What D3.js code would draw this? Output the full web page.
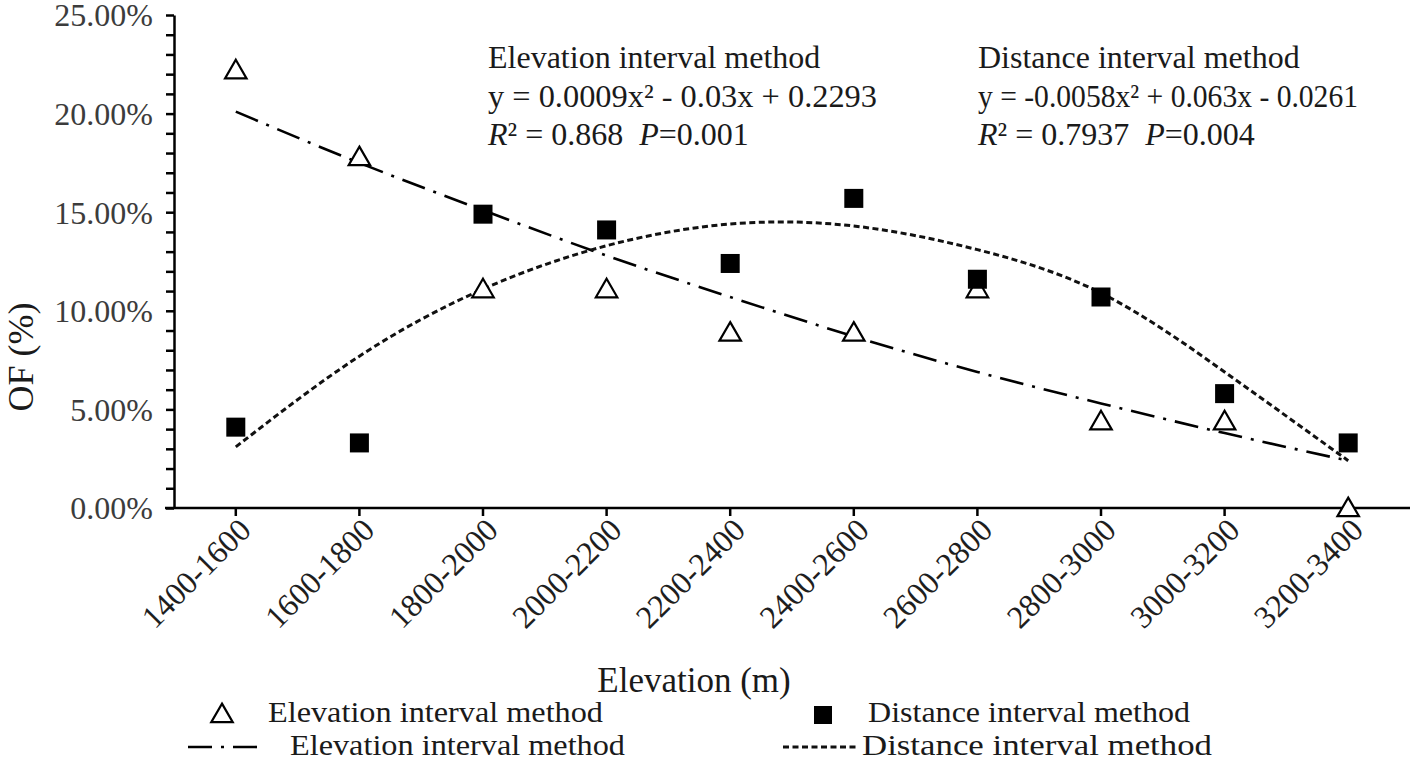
<!DOCTYPE html>
<html>
<head>
<meta charset="utf-8">
<script src="https://cdn.jsdelivr.net/npm/d3@7"></script>
<style>
  html, body { margin: 0; padding: 0; background: #fff; }
  svg { display: block; }
</style>
</head>
<body>
<svg id="chart" width="1418" height="763"></svg>
<script>
// ---------------- data ----------------
const categories = ["1400-1600", "1600-1800", "1800-2000", "2000-2200", "2200-2400",
                    "2400-2600", "2600-2800", "2800-3000", "3000-3200", "3200-3400"];
const elevationValues = [22.2, 17.8, 11.1, 11.1, 8.9, 8.9, 11.1, 4.4, 4.4, 0.0];   // % (triangles)
const distanceValues  = [4.1, 3.3, 14.9, 14.1, 12.4, 15.7, 11.6, 10.7, 5.8, 3.3];  // % (squares)
const elevationTrend  = [20.1, 17.5, 15.1, 12.8, 10.7, 8.7, 6.9, 5.3, 3.8, 2.4];   // % dash-dot fit
const distanceTrend   = [3.1, 7.7, 11.1, 13.3, 14.4, 14.3, 13.1, 10.9, 6.9, 2.4];  // % dotted fit
const yMajorTicks = [0, 5, 10, 15, 20, 25];
const yMinorTicks = [0,1,2,3,4,5,6,7,8,9,10,11,12,13,14,15,16,17,18,19,20,21,22,23,24,25];
const seriesNames = ["Elevation interval method", "Distance interval method"];
const annotElev = { title: "Elevation interval method", eq: "y = 0.0009x² - 0.03x + 0.2293", r2: "0.868", p: "0.001" };
const annotDist = { title: "Distance interval method", eq: "y = -0.0058x² + 0.063x - 0.0261", r2: "0.7937", p: "0.004" };
const xTitle = "Elevation (m)";
const yTitle = "OF (%)";

// ---------------- layout ----------------
const FONT = "'Liberation Serif', 'Times New Roman', Tinos, serif";
const svg = d3.select("#chart");
const mLeft = 174, mRight = 1410, mTop = 15, mBottom = 508;

const x = d3.scaleBand().domain(categories).range([mLeft, mRight]);
const y = d3.scaleLinear().domain([0, 25]).range([mBottom, mTop]);
const cx = c => x(c) + x.bandwidth() / 2;

// Y axis: minor ticks + labelled majors
const yAxisG = svg.append("g").attr("transform", `translate(${mLeft},0)`)
  .call(d3.axisLeft(y).tickValues(yMinorTicks).tickSize(8).tickSizeOuter(0).tickFormat(""));
yAxisG.select(".domain").attr("stroke", "#000").attr("stroke-width", 2.5);
yAxisG.selectAll(".tick line").attr("stroke", "#000").attr("stroke-width", 2.5);

const yLab = svg.append("g").attr("transform", `translate(${mLeft},0)`)
  .call(d3.axisLeft(y).tickValues(yMajorTicks).tickSize(8).tickPadding(13)
        .tickFormat(d => d3.format(".2%")(d / 100)));
yLab.select(".domain").remove();
yLab.selectAll(".tick line").remove();
yLab.selectAll(".tick text").attr("font-size", 32).attr("fill", "#3c3c3c")
    .style("font-family", FONT).attr("dy", "0.34em");

// X axis
const xAxisG = svg.append("g").attr("transform", `translate(0,${mBottom})`)
  .call(d3.axisBottom(x).tickSize(8).tickSizeOuter(0));
xAxisG.select(".domain").attr("stroke", "#000").attr("stroke-width", 2.5)
  .attr("d", `M${mLeft - 9},0H${mRight}`);
xAxisG.selectAll(".tick line").attr("stroke", "#000").attr("stroke-width", 2.5);
xAxisG.selectAll(".tick text")
  .attr("font-size", 32).attr("fill", "#1e1e1e").style("font-family", FONT)
  .attr("text-anchor", "end")
  .attr("transform", "translate(9,16) rotate(-45)")
  .attr("x", 0).attr("y", 0).attr("dy", "0.35em");

// Trend lines
const line = d3.line().x((d, i) => cx(categories[i])).y(d => y(d)).curve(d3.curveNatural);
svg.append("path").datum(elevationTrend).attr("d", line)
  .attr("fill", "none").attr("stroke", "#000").attr("stroke-width", 2.6)
  .attr("stroke-dasharray", "24,9,3,9");
svg.append("path").datum(distanceTrend).attr("d", line)
  .attr("fill", "none").attr("stroke", "#111").attr("stroke-width", 3)
  .attr("stroke-dasharray", "6,3.5");

// Markers
const tri = d3.symbol().type(d3.symbolTriangle).size(200);
svg.append("g").selectAll("path").data(elevationValues).join("path")
  .attr("d", tri)
  .attr("transform", (d, i) => `translate(${cx(categories[i])},${y(d) + 2})`)
  .attr("fill", "#fff").attr("stroke", "#000").attr("stroke-width", 2.2);
const sq = 19;
svg.append("g").selectAll("rect").data(distanceValues).join("rect")
  .attr("x", (d, i) => cx(categories[i]) - sq / 2)
  .attr("y", d => y(d) - sq / 2)
  .attr("width", sq).attr("height", sq).attr("fill", "#000");

// text helper
function stext(g, tx, ty, size, anchor, len) {
  const t = g.append("text")
    .attr("x", tx).attr("y", ty)
    .attr("font-size", size).attr("fill", "#1a1a1a")
    .style("font-family", FONT).style("white-space", "pre")
    .attr("text-anchor", anchor || "start");
  if (len) t.attr("textLength", len).attr("lengthAdjust", "spacingAndGlyphs");
  return t;
}

// Annotations
function annotate(a, ax, eqLen) {
  const g = svg.append("g");
  stext(g, ax, 68, 32).text(a.title);
  stext(g, ax, 107, 32, "start", eqLen).text(a.eq);
  const t = stext(g, ax, 145, 32);
  t.append("tspan").attr("font-style", "italic").text("R");
  t.append("tspan").text("² = " + a.r2 + "  ");
  t.append("tspan").attr("font-style", "italic").text("P");
  t.append("tspan").text("=" + a.p);
}
annotate(annotElev, 488, 389);
annotate(annotDist, 978, 380);

// Axis titles
stext(svg, 694, 692, 35, "middle").text(xTitle);
svg.append("text")
  .attr("transform", `translate(33,357) rotate(-90)`)
  .attr("font-size", 36).attr("fill", "#1a1a1a").attr("text-anchor", "middle")
  .style("font-family", FONT)
  .text(yTitle);

// Legend
const lg = svg.append("g");
lg.append("path").attr("d", tri).attr("transform", "translate(222,716)")
  .attr("fill", "#fff").attr("stroke", "#000").attr("stroke-width", 2.2);
stext(lg, 268, 722, 30, "start", 335).text(seriesNames[0]);
lg.append("rect").attr("x", 814).attr("y", 706).attr("width", 18).attr("height", 18).attr("fill", "#000");
stext(lg, 868, 722, 30, "start", 322).text(seriesNames[1]);
lg.append("line").attr("x1", 188).attr("x2", 258).attr("y1", 747).attr("y2", 747)
  .attr("stroke", "#000").attr("stroke-width", 2.6).attr("stroke-dasharray", "24,9,3,9");
stext(lg, 290, 755, 30, "start", 335).text(seriesNames[0]);
lg.append("line").attr("x1", 783).attr("x2", 858).attr("y1", 747).attr("y2", 747)
  .attr("stroke", "#111").attr("stroke-width", 3).attr("stroke-dasharray", "6,3.5");
stext(lg, 862, 755, 30, "start", 350).text(seriesNames[1]);
</script>
</body>
</html>
